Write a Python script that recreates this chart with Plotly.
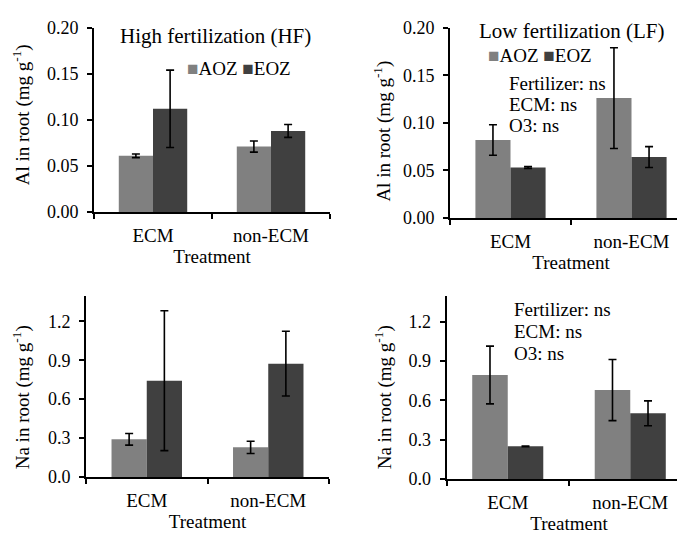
import plotly.graph_objects as go

categories = ["ECM", "non-ECM"]

# Al in root (mg g-1)
hf_al_aoz = [0.061, 0.071]
hf_al_aoz_err = [0.002, 0.006]
hf_al_eoz = [0.112, 0.088]
hf_al_eoz_err = [0.042, 0.007]

lf_al_aoz = [0.082, 0.126]
lf_al_aoz_err = [0.016, 0.053]
lf_al_eoz = [0.053, 0.064]
lf_al_eoz_err = [0.001, 0.011]

# Na in root (mg g-1)
hf_na_aoz = [0.290, 0.228]
hf_na_aoz_err = [0.045, 0.047]
hf_na_eoz = [0.743, 0.874]
hf_na_eoz_err = [0.540, 0.250]

lf_na_aoz = [0.794, 0.679]
lf_na_aoz_err = [0.220, 0.233]
lf_na_eoz = [0.250, 0.502]
lf_na_eoz_err = [0.003, 0.095]

al_ticks = [0.00, 0.05, 0.10, 0.15, 0.20]
na_ticks = [0.0, 0.3, 0.6, 0.9, 1.2]

AOZ_COLOR = "#808080"
EOZ_COLOR = "#404040"
FONT = "Liberation Serif"
W, H = 685, 536

def dx(a, b):
    return [a / W, b / W]

def dy(top, bottom):
    return [1 - bottom / H, 1 - top / H]

fig = go.Figure()

panels = [
    ("", hf_al_aoz, hf_al_aoz_err, hf_al_eoz, hf_al_eoz_err),
    ("2", lf_al_aoz, lf_al_aoz_err, lf_al_eoz, lf_al_eoz_err),
    ("3", hf_na_aoz, hf_na_aoz_err, hf_na_eoz, hf_na_eoz_err),
    ("4", lf_na_aoz, lf_na_aoz_err, lf_na_eoz, lf_na_eoz_err),
]

for suf, a, ae, e, ee in panels:
    for name, vals, errs, col in (("AOZ", a, ae, AOZ_COLOR), ("EOZ", e, ee, EOZ_COLOR)):
        fig.add_trace(go.Bar(
            x=categories, y=vals, name=name, showlegend=False,
            marker=dict(color=col, line=dict(width=0)),
            error_y=dict(type="data", array=errs, color="black", thickness=1.6, width=4),
            xaxis="x" + suf, yaxis="y" + suf,
        ))

common_x = dict(
    type="category", showline=True, linecolor="black", linewidth=2,
    ticks="outside", ticklen=5, tickwidth=2, tickcolor="black", tickson="boundaries",
    tickfont=dict(family=FONT, size=19, color="black"), ticklabelstandoff=5,
    showgrid=False, zeroline=False, fixedrange=True,
    title=dict(text="Treatment", font=dict(family=FONT, size=19, color="black"), standoff=2),
)
common_y = dict(
    showline=True, linecolor="black", linewidth=2,
    ticks="outside", ticklen=5, tickwidth=2, tickcolor="black",
    tickfont=dict(family=FONT, size=18, color="black"), ticklabelstandoff=5,
    ticklabeloverflow="allow",
    showgrid=False, zeroline=False, fixedrange=True,
)

fig.update_layout(
    width=W, height=H,
    margin=dict(l=0, r=0, t=0, b=0),
    paper_bgcolor="white", plot_bgcolor="white",
    font=dict(family=FONT, size=19, color="black"),
    barmode="group", bargap=0.42, bargroupgap=0,
    showlegend=False,
    xaxis=dict(domain=dx(86, 322), anchor="y", **common_x),
    yaxis=dict(domain=dy(10, 201.5), anchor="x", range=[0, 0.2001], tickvals=al_ticks,
               tickformat=".2f", **common_y),
    xaxis2=dict(domain=dx(442, 684), anchor="y2", **common_x),
    yaxis2=dict(domain=dy(10, 207.7), anchor="x2", range=[0, 0.2001], tickvals=al_ticks,
                tickformat=".2f", **common_y),
    xaxis3=dict(domain=dx(78, 321), anchor="y3", **common_x),
    yaxis3=dict(domain=dy(288.3, 476.7), anchor="x3", range=[0, 1.4], tickvals=na_ticks,
                tickformat=".1f", **common_y),
    xaxis4=dict(domain=dx(438.5, 683.5), anchor="y4", **common_x),
    yaxis4=dict(domain=dy(288.3, 479), anchor="x4", range=[0, 1.4], tickvals=na_ticks,
                tickformat=".1f", **common_y),
)

ann_font = dict(family=FONT, size=19, color="black")
legend_text = ("<span style='color:%s'>■</span>AOZ <span style='color:%s'>■</span>EOZ"
               % (AOZ_COLOR, EOZ_COLOR))
al_title = "Al in root (mg g<sup>-1</sup>)"
na_title = "Na in root (mg g<sup>-1</sup>)"
annotations = [
    dict(text="High fertilization (HF)", x=207.5 / W, y=1 - 19 / H, font=dict(family=FONT, size=21, color="black"),
         xanchor="center", yanchor="middle"),
    dict(text="Low fertilization (LF)", x=563.5 / W, y=1 - 14 / H, font=dict(family=FONT, size=21, color="black"),
         xanchor="center", yanchor="middle"),
    dict(text=legend_text, x=177 / W, y=1 - 52 / H, xanchor="left", yanchor="middle", font=ann_font),
    dict(text=legend_text, x=478 / W, y=1 - 39 / H, xanchor="left", yanchor="middle", font=ann_font),
    dict(text=al_title, x=13 / W, y=1 - 101 / H, textangle=-90, xanchor="center", yanchor="middle", font=ann_font),
    dict(text=al_title, x=375 / W, y=1 - 118 / H, textangle=-90, xanchor="center", yanchor="middle", font=ann_font),
    dict(text=na_title, x=13 / W, y=1 - 394 / H, textangle=-90, xanchor="center", yanchor="middle", font=ann_font),
    dict(text=na_title, x=375 / W, y=1 - 394 / H, textangle=-90, xanchor="center", yanchor="middle", font=ann_font),
]
for (x0, ys) in ((499, (68, 90, 111.7)), (504, (303.3, 325.7, 348.3))):
    for txt, yy in zip(("Fertilizer: ns", "ECM: ns", "O3: ns"), ys):
        annotations.append(dict(text=txt, x=x0 / W, y=1 - yy / H, xanchor="left", yanchor="middle", font=ann_font))
for a in annotations:
    a.update(xref="paper", yref="paper", showarrow=False)
fig.update_layout(annotations=annotations)

fig.write_html("out.html")
